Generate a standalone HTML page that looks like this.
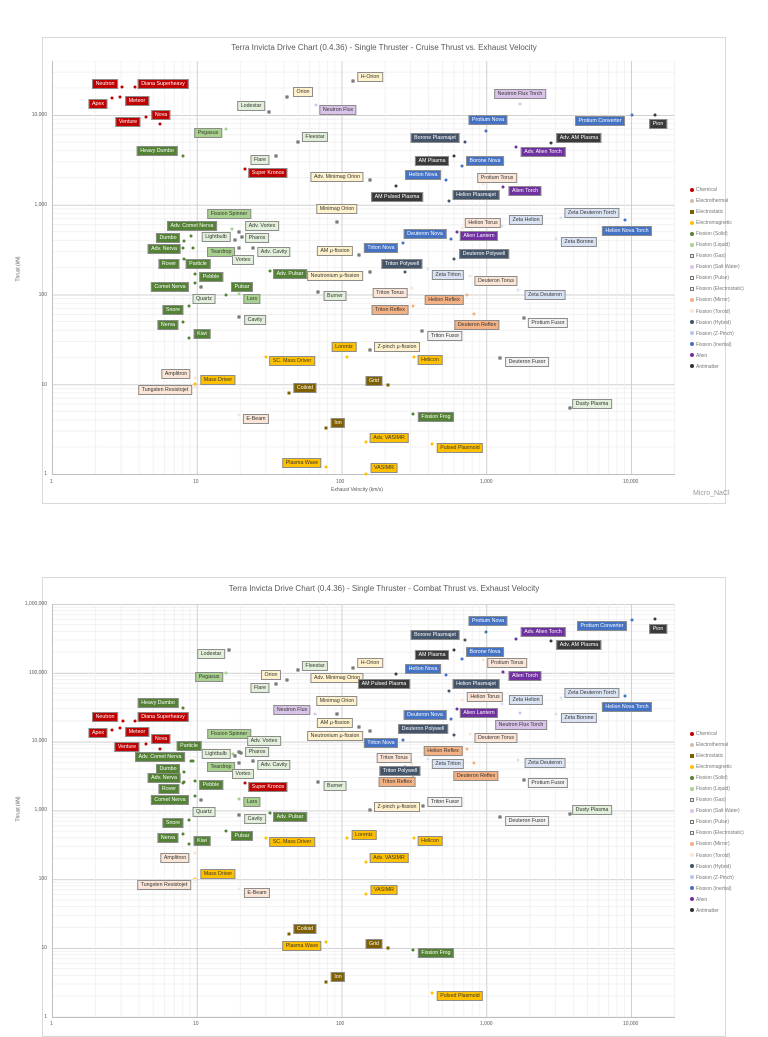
<!DOCTYPE html>
<html><head><meta charset="utf-8">
<style>
*{margin:0;padding:0;box-sizing:border-box}
body{width:768px;height:1024px;background:#fff;position:relative;overflow:hidden;font-family:"Liberation Sans",sans-serif}
.frame{position:absolute;border:1px solid #d9d9d9;background:#fff}
.t{position:absolute;white-space:nowrap;color:#595959}
.l{position:absolute;transform:translate(-50%,-50%);white-space:nowrap;font-size:5.3px;line-height:6px;padding:1px 2.5px;border:1px solid #8c8c8c;color:#333}
.p{position:absolute;width:3px;height:3px;border-radius:50%;transform:translate(-50%,-50%)}
.r{background:#c00000;color:#fff}.dg{background:#548235;color:#fff}.lg{background:#a9d18e}.vg{background:#e2efda}
.cr{background:#fff2cc}.lv{background:#d9c3e9}.bl{background:#4472c4;color:#fff}.sl{background:#44546a;color:#fff}
.bk{background:#3a3a3a;color:#fff}.pu{background:#7030a0;color:#fff}.pe{background:#fbe5d6}.or{background:#f4b183}
.pb{background:#dae3f3}.go{background:#ffc000}.br{background:#7f6000;color:#fff}.gr{background:#f2f2f2}
.lgd{position:absolute;font-size:5px;color:#777;line-height:11.05px}
.lgd span{display:inline-block;width:4px;height:4px;border-radius:50%;margin-right:2px;vertical-align:middle}
</style></head><body>
<div class="frame" style="left:42px;top:37px;width:684px;height:467px"></div>
<div class="frame" style="left:42px;top:577px;width:684px;height:460px"></div>
<svg width="768" height="1024" style="position:absolute;left:0;top:0">
<defs>
<pattern id="px" patternUnits="userSpaceOnUse" x="52" y="0" width="144.75" height="10">
<g stroke="#ececec" stroke-width="0.7"><line x1="43.6" y1="0" x2="43.6" y2="10"/><line x1="69.1" y1="0" x2="69.1" y2="10"/><line x1="87.1" y1="0" x2="87.1" y2="10"/><line x1="101.2" y1="0" x2="101.2" y2="10"/><line x1="112.6" y1="0" x2="112.6" y2="10"/><line x1="122.3" y1="0" x2="122.3" y2="10"/><line x1="130.7" y1="0" x2="130.7" y2="10"/><line x1="138.1" y1="0" x2="138.1" y2="10"/></g>
<line x1="0.5" y1="0" x2="0.5" y2="10" stroke="#d0d0d0" stroke-width="1"/>
</pattern>
<pattern id="py1" patternUnits="userSpaceOnUse" x="0" y="115" width="10" height="89.75">
<g stroke="#ececec" stroke-width="0.7"><line y1="62.7" x1="0" y2="62.7" x2="10"/><line y1="46.9" x1="0" y2="46.9" x2="10"/><line y1="35.7" x1="0" y2="35.7" x2="10"/><line y1="27" x1="0" y2="27" x2="10"/><line y1="19.9" x1="0" y2="19.9" x2="10"/><line y1="13.9" x1="0" y2="13.9" x2="10"/><line y1="8.7" x1="0" y2="8.7" x2="10"/><line y1="4.1" x1="0" y2="4.1" x2="10"/></g>
<line y1="0.5" x1="0" y2="0.5" x2="10" stroke="#d0d0d0" stroke-width="1"/>
</pattern>
<pattern id="py2" patternUnits="userSpaceOnUse" x="0" y="604" width="10" height="68.8">
<g stroke="#ececec" stroke-width="0.7"><line y1="48.1" x1="0" y2="48.1" x2="10"/><line y1="36" x1="0" y2="36" x2="10"/><line y1="27.4" x1="0" y2="27.4" x2="10"/><line y1="20.7" x1="0" y2="20.7" x2="10"/><line y1="15.3" x1="0" y2="15.3" x2="10"/><line y1="10.7" x1="0" y2="10.7" x2="10"/><line y1="6.7" x1="0" y2="6.7" x2="10"/><line y1="3.2" x1="0" y2="3.2" x2="10"/></g>
<line y1="0.5" x1="0" y2="0.5" x2="10" stroke="#d0d0d0" stroke-width="1"/>
</pattern>
</defs>
<rect x="52" y="61" width="623" height="413" fill="url(#py1)"/>
<rect x="52" y="61" width="623" height="413" fill="url(#px)"/>
<rect x="52" y="604" width="623" height="413" fill="url(#py2)"/>
<rect x="52" y="604" width="623" height="413" fill="url(#px)"/>
<g stroke="#bfbfbf" stroke-width="1"><line x1="52" y1="474.5" x2="675" y2="474.5"/><line x1="52" y1="1017.5" x2="675" y2="1017.5"/><line x1="52.5" y1="61" x2="52.5" y2="474"/><line x1="52.5" y1="604" x2="52.5" y2="1017"/></g>
</svg>

<div class="t" style="left:0;width:768px;top:43px;text-align:center;font-size:8px">Terra Invicta Drive Chart (0.4.36) - Single Thruster - Cruise Thrust vs. Exhaust Velocity</div>
<div class="t" style="left:0;width:768px;top:584px;text-align:center;font-size:8px">Terra Invicta Drive Chart (0.4.36) - Single Thruster - Combat Thrust vs. Exhaust Velocity</div>
<div class="t" style="left:693px;top:490px;font-size:7px;color:#999">Micro_NaCl</div>
<div class="t" style="left:0;width:714px;top:487px;text-align:center;font-size:5px">Exhaust Velocity (km/s)</div>
<div class="t" style="left:6px;top:266px;font-size:5px;transform:rotate(-90deg)">Thrust (kN)</div>
<div class="t" style="left:6px;top:806px;font-size:5px;transform:rotate(-90deg)">Thrust (kN)</div>

<div class="t" style="font-size:5px;right:721px;top:112px">10,000</div>
<div class="t" style="font-size:5px;right:721px;top:202px">1,000</div>
<div class="t" style="font-size:5px;right:721px;top:292px">100</div>
<div class="t" style="font-size:5px;right:721px;top:382px">10</div>
<div class="t" style="font-size:5px;right:721px;top:471px">1</div>
<div class="t" style="font-size:5px;left:50px;top:479px">1</div>
<div class="t" style="font-size:5px;left:193px;top:479px">10</div>
<div class="t" style="font-size:5px;left:336px;top:479px">100</div>
<div class="t" style="font-size:5px;left:480px;top:479px">1,000</div>
<div class="t" style="font-size:5px;left:623px;top:479px">10,000</div>

<div class="t" style="font-size:5px;right:721px;top:601px">1,000,000</div>
<div class="t" style="font-size:5px;right:721px;top:670px">100,000</div>
<div class="t" style="font-size:5px;right:721px;top:738px">10,000</div>
<div class="t" style="font-size:5px;right:721px;top:807px">1,000</div>
<div class="t" style="font-size:5px;right:721px;top:876px">100</div>
<div class="t" style="font-size:5px;right:721px;top:945px">10</div>
<div class="t" style="font-size:5px;right:721px;top:1014px">1</div>
<div class="t" style="font-size:5px;left:50px;top:1021px">1</div>
<div class="t" style="font-size:5px;left:193px;top:1021px">10</div>
<div class="t" style="font-size:5px;left:336px;top:1021px">100</div>
<div class="t" style="font-size:5px;left:480px;top:1021px">1,000</div>
<div class="t" style="font-size:5px;left:623px;top:1021px">10,000</div>

<div class="lgd" style="left:690px;top:185px"><span style="background:#c00000"></span>Chemical<br><span style="background:#d9b9a9"></span>Electrothermal<br><span style="background:#7f6000;border-radius:0"></span>Electrostatic<br><span style="background:#ffc000"></span>Electromagnetic<br><span style="background:#548235"></span>Fission (Solid)<br><span style="background:#a9d18e"></span>Fission (Liquid)<br><span style="background:#e2efda;border:1px solid #777;border-radius:0"></span>Fission (Gas)<br><span style="background:#d9c3e9"></span>Fission (Salt Water)<br><span style="background:#fff2cc;border:1px solid #777;border-radius:0"></span>Fission (Pulse)<br><span style="background:#f2f2f2;border:1px solid #777;border-radius:0"></span>Fission (Electrostatic)<br><span style="background:#f4b183"></span>Fission (Mirror)<br><span style="background:#fbe5d6"></span>Fission (Toroid)<br><span style="background:#44546a"></span>Fission (Hybrid)<br><span style="background:#b4c7e7"></span>Fission (Z-Pinch)<br><span style="background:#4472c4"></span>Fission (Inertial)<br><span style="background:#7030a0"></span>Alien<br><span style="background:#333"></span>Antimatter</div>
<div class="lgd" style="left:690px;top:729px"><span style="background:#c00000"></span>Chemical<br><span style="background:#d9b9a9"></span>Electrothermal<br><span style="background:#7f6000;border-radius:0"></span>Electrostatic<br><span style="background:#ffc000"></span>Electromagnetic<br><span style="background:#548235"></span>Fission (Solid)<br><span style="background:#a9d18e"></span>Fission (Liquid)<br><span style="background:#e2efda;border:1px solid #777;border-radius:0"></span>Fission (Gas)<br><span style="background:#d9c3e9"></span>Fission (Salt Water)<br><span style="background:#fff2cc;border:1px solid #777;border-radius:0"></span>Fission (Pulse)<br><span style="background:#f2f2f2;border:1px solid #777;border-radius:0"></span>Fission (Electrostatic)<br><span style="background:#f4b183"></span>Fission (Mirror)<br><span style="background:#fbe5d6"></span>Fission (Toroid)<br><span style="background:#44546a"></span>Fission (Hybrid)<br><span style="background:#b4c7e7"></span>Fission (Z-Pinch)<br><span style="background:#4472c4"></span>Fission (Inertial)<br><span style="background:#7030a0"></span>Alien<br><span style="background:#333"></span>Antimatter</div>

<!-- Chart 1 points -->
<div class="p r" style="left:122px;top:87px"></div><div class="p r" style="left:135px;top:87px"></div><div class="p r" style="left:112px;top:98px"></div><div class="p r" style="left:120px;top:97px"></div><div class="p r" style="left:146px;top:117px"></div><div class="p r" style="left:160px;top:124px"></div><div class="p r" style="left:245px;top:169px"></div>
<div class="p lg" style="left:226px;top:129px"></div><div class="p dg" style="left:183px;top:156px"></div><div class="p vg" style="left:269px;top:112px;border:1px solid #555;border-radius:0"></div><div class="p cr" style="left:287px;top:97px;border:1px solid #555;border-radius:0"></div><div class="p cr" style="left:353px;top:81px;border:1px solid #555;border-radius:0"></div><div class="p lv" style="left:316px;top:105px"></div><div class="p vg" style="left:298px;top:142px;border:1px solid #555;border-radius:0"></div><div class="p vg" style="left:276px;top:156px;border:1px solid #555;border-radius:0"></div><div class="p cr" style="left:370px;top:180px;border:1px solid #555;border-radius:0"></div><div class="p bk" style="left:396px;top:186px"></div><div class="p cr" style="left:337px;top:222px;border:1px solid #555;border-radius:0"></div>
<div class="p bl" style="left:486px;top:131px"></div><div class="p sl" style="left:465px;top:142px"></div><div class="p bk" style="left:551px;top:143px"></div><div class="p pu" style="left:516px;top:147px"></div><div class="p bk" style="left:454px;top:156px"></div><div class="p bl" style="left:462px;top:166px"></div><div class="p bl" style="left:446px;top:180px"></div><div class="p pe" style="left:483px;top:184px"></div><div class="p pu" style="left:503px;top:187px"></div><div class="p sl" style="left:449px;top:201px"></div><div class="p lv" style="left:520px;top:104px"></div><div class="p bl" style="left:632px;top:115px"></div><div class="p bk" style="left:655px;top:115px"></div>
<div class="p bl" style="left:625px;top:220px"></div><div class="p pb" style="left:561px;top:218px"></div><div class="p pb" style="left:556px;top:239px"></div><div class="p pb" style="left:502px;top:226px"></div><div class="p pe" style="left:462px;top:228px"></div><div class="p pu" style="left:457px;top:232px"></div><div class="p bl" style="left:451px;top:239px"></div><div class="p sl" style="left:454px;top:259px"></div><div class="p bl" style="left:403px;top:243px"></div><div class="p sl" style="left:405px;top:272px"></div><div class="p pb" style="left:428px;top:269px"></div><div class="p pe" style="left:470px;top:276px"></div>
<div class="p pe" style="left:412px;top:288px"></div><div class="p or" style="left:467px;top:295px"></div><div class="p pb" style="left:518px;top:290px"></div><div class="p or" style="left:413px;top:306px"></div><div class="p or" style="left:474px;top:314px"></div><div class="p gr" style="left:524px;top:318px;border:1px solid #555;border-radius:0"></div><div class="p gr" style="left:422px;top:331px;border:1px solid #555;border-radius:0"></div><div class="p gr" style="left:500px;top:358px;border:1px solid #555;border-radius:0"></div><div class="p go" style="left:414px;top:357px"></div><div class="p vg" style="left:570px;top:408px;border:1px solid #555;border-radius:0"></div><div class="p dg" style="left:413px;top:414px"></div><div class="p go" style="left:432px;top:444px"></div>
<div class="p lg" style="left:232px;top:229px"></div><div class="p vg" style="left:239px;top:232px;border:1px solid #555;border-radius:0"></div><div class="p dg" style="left:191px;top:236px"></div><div class="p dg" style="left:184px;top:241px"></div><div class="p vg" style="left:235px;top:240px;border:1px solid #555;border-radius:0"></div><div class="p vg" style="left:242px;top:237px;border:1px solid #555;border-radius:0"></div><div class="p dg" style="left:183px;top:248px"></div><div class="p vg" style="left:239px;top:248px;border:1px solid #555;border-radius:0"></div><div class="p vg" style="left:253px;top:248px;border:1px solid #555;border-radius:0"></div><div class="p dg" style="left:184px;top:259px"></div><div class="p dg" style="left:193px;top:248px"></div><div class="p cr" style="left:359px;top:255px;border:1px solid #555;border-radius:0"></div>
<div class="p dg" style="left:195px;top:274px"></div><div class="p dg" style="left:270px;top:271px"></div><div class="p cr" style="left:370px;top:272px;border:1px solid #555;border-radius:0"></div><div class="p dg" style="left:195px;top:283px"></div><div class="p dg" style="left:226px;top:295px"></div><div class="p vg" style="left:201px;top:287px;border:1px solid #555;border-radius:0"></div><div class="p lg" style="left:239px;top:294px"></div><div class="p vg" style="left:318px;top:292px;border:1px solid #555;border-radius:0"></div><div class="p dg" style="left:189px;top:306px"></div><div class="p vg" style="left:239px;top:317px;border:1px solid #555;border-radius:0"></div><div class="p dg" style="left:183px;top:322px"></div><div class="p dg" style="left:189px;top:338px"></div>
<div class="p go" style="left:347px;top:357px"></div><div class="p cr" style="left:370px;top:350px;border:1px solid #555;border-radius:0"></div><div class="p go" style="left:266px;top:357px"></div><div class="p pe" style="left:195px;top:378px"></div><div class="p go" style="left:195px;top:384px"></div><div class="p pe" style="left:195px;top:387px"></div><div class="p br" style="left:289px;top:393px;border-radius:0"></div><div class="p br" style="left:388px;top:385px;border-radius:0"></div><div class="p pe" style="left:239px;top:415px"></div><div class="p br" style="left:326px;top:428px;border-radius:0"></div><div class="p go" style="left:366px;top:442px"></div><div class="p go" style="left:326px;top:467px"></div><div class="p go" style="left:366px;top:474px"></div>

<!-- Chart 1 labels -->
<div class="l r" style="left:105px;top:84px">Neutron</div>
<div class="l r" style="left:163px;top:84px">Diana Superheavy</div>
<div class="l r" style="left:98px;top:104px">Apex</div>
<div class="l r" style="left:137px;top:101px">Meteor</div>
<div class="l r" style="left:128px;top:122px">Venture</div>
<div class="l r" style="left:161px;top:115px">Nova</div>
<div class="l lg" style="left:208px;top:133px">Pegasus</div>
<div class="l dg" style="left:157px;top:151px">Heavy Dumbo</div>
<div class="l vg" style="left:251px;top:106px">Lodestar</div>
<div class="l cr" style="left:303px;top:92px">Orion</div>
<div class="l cr" style="left:370px;top:77px">H-Orion</div>
<div class="l lv" style="left:338px;top:110px">Neutron Flux</div>
<div class="l vg" style="left:315px;top:137px">Fleestar</div>
<div class="l vg" style="left:260px;top:160px">Flare</div>
<div class="l r" style="left:268px;top:173px">Super Kronos</div>
<div class="l cr" style="left:337px;top:177px">Adv. Minimag Orion</div>
<div class="l bk" style="left:397px;top:197px">AM Pulsed Plasma</div>
<div class="l cr" style="left:337px;top:209px">Minimag Orion</div>
<div class="l bl" style="left:488px;top:120px">Protium Nova</div>
<div class="l sl" style="left:435px;top:138px">Borone Plasmajet</div>
<div class="l bk" style="left:579px;top:138px">Adv. AM Plasma</div>
<div class="l pu" style="left:543px;top:152px">Adv. Alien Torch</div>
<div class="l bk" style="left:432px;top:161px">AM Plasma</div>
<div class="l bl" style="left:485px;top:161px">Borone Nova</div>
<div class="l bl" style="left:423px;top:175px">Helion Nova</div>
<div class="l pe" style="left:497px;top:178px">Protium Torus</div>
<div class="l pu" style="left:525px;top:191px">Alien Torch</div>
<div class="l sl" style="left:476px;top:195px">Helion Plasmajet</div>
<div class="l lv" style="left:520px;top:94px">Neutron Flux Torch</div>
<div class="l bl" style="left:600px;top:121px">Protium Converter</div>
<div class="l bk" style="left:658px;top:124px">Pion</div>
<div class="l lg" style="left:229px;top:214px">Fission Spinner</div>
<div class="l vg" style="left:262px;top:226px">Adv. Vortex</div>
<div class="l dg" style="left:192px;top:226px">Adv. Comet Nerva</div>
<div class="l dg" style="left:168px;top:238px">Dumbo</div>
<div class="l vg" style="left:216px;top:237px">Lightbulb</div>
<div class="l vg" style="left:257px;top:238px">Pharos</div>
<div class="l dg" style="left:164px;top:249px">Adv. Nerva</div>
<div class="l lg" style="left:221px;top:252px">Teardrop</div>
<div class="l vg" style="left:274px;top:252px">Adv. Cavity</div>
<div class="l vg" style="left:243px;top:260px">Vortex</div>
<div class="l dg" style="left:169px;top:264px">Rover</div>
<div class="l dg" style="left:198px;top:264px">Particle</div>
<div class="l cr" style="left:335px;top:251px">AM μ-fission</div>
<div class="l bl" style="left:381px;top:248px">Triton Nova</div>
<div class="l sl" style="left:402px;top:264px">Triton Polywell</div>
<div class="l pb" style="left:448px;top:275px">Zeta Triton</div>
<div class="l pe" style="left:496px;top:281px">Deuteron Torus</div>
<div class="l pe" style="left:483px;top:223px">Helion Torus</div>
<div class="l pb" style="left:526px;top:220px">Zeta Helion</div>
<div class="l pb" style="left:592px;top:213px">Zeta Deuteron Torch</div>
<div class="l bl" style="left:627px;top:231px">Helion Nova Torch</div>
<div class="l pb" style="left:579px;top:242px">Zeta Borone</div>
<div class="l bl" style="left:425px;top:234px">Deuteron Nova</div>
<div class="l pu" style="left:479px;top:236px">Alien Lantern</div>
<div class="l sl" style="left:484px;top:254px">Deuteron Polywell</div>
<div class="l dg" style="left:211px;top:277px">Pebble</div>
<div class="l dg" style="left:290px;top:274px">Adv. Pulsar</div>
<div class="l cr" style="left:335px;top:276px">Neutronium μ-fission</div>
<div class="l dg" style="left:170px;top:287px">Comet Nerva</div>
<div class="l dg" style="left:242px;top:287px">Pulsar</div>
<div class="l vg" style="left:204px;top:299px">Quartz</div>
<div class="l lg" style="left:252px;top:299px">Lars</div>
<div class="l vg" style="left:335px;top:296px">Burner</div>
<div class="l pe" style="left:390px;top:293px">Triton Torus</div>
<div class="l or" style="left:444px;top:300px">Helion Reflex</div>
<div class="l pb" style="left:545px;top:295px">Zeta Deuteron</div>
<div class="l dg" style="left:173px;top:310px">Snore</div>
<div class="l or" style="left:390px;top:310px">Triton Reflex</div>
<div class="l vg" style="left:255px;top:320px">Cavity</div>
<div class="l dg" style="left:168px;top:325px">Nerva</div>
<div class="l or" style="left:477px;top:325px">Deuteron Reflex</div>
<div class="l gr" style="left:548px;top:323px">Protium Fusor</div>
<div class="l dg" style="left:202px;top:334px">Kiwi</div>
<div class="l gr" style="left:445px;top:336px">Triton Fusor</div>
<div class="l go" style="left:344px;top:347px">Lorentz</div>
<div class="l cr" style="left:397px;top:347px">Z-pinch μ-fission</div>
<div class="l go" style="left:292px;top:361px">SC. Mass Driver</div>
<div class="l go" style="left:430px;top:360px">Helicon</div>
<div class="l gr" style="left:527px;top:362px">Deuteron Fusor</div>
<div class="l pe" style="left:176px;top:374px">Amplitron</div>
<div class="l go" style="left:218px;top:380px">Mass Driver</div>
<div class="l pe" style="left:165px;top:390px">Tungsten Resistojet</div>
<div class="l br" style="left:305px;top:388px">Coiloid</div>
<div class="l br" style="left:374px;top:381px">Grid</div>
<div class="l vg" style="left:592px;top:404px">Dusty Plasma</div>
<div class="l pe" style="left:256px;top:419px">E-Beam</div>
<div class="l dg" style="left:436px;top:417px">Fission Frog</div>
<div class="l br" style="left:338px;top:423px">Ion</div>
<div class="l go" style="left:389px;top:438px">Adv. VASIMR</div>
<div class="l go" style="left:460px;top:448px">Pulsed Plasmoid</div>
<div class="l go" style="left:302px;top:463px">Plasma Wave</div>
<div class="l go" style="left:384px;top:468px">VASIMR</div>

<!-- Chart 2 points -->
<div class="p vg" style="left:229px;top:650px;border:1px solid #555;border-radius:0"></div><div class="p lg" style="left:226px;top:673px"></div><div class="p vg" style="left:298px;top:670px;border:1px solid #555;border-radius:0"></div><div class="p cr" style="left:353px;top:668px;border:1px solid #555;border-radius:0"></div><div class="p cr" style="left:287px;top:680px;border:1px solid #555;border-radius:0"></div><div class="p cr" style="left:370px;top:682px;border:1px solid #555;border-radius:0"></div><div class="p bk" style="left:396px;top:674px"></div><div class="p vg" style="left:276px;top:684px;border:1px solid #555;border-radius:0"></div><div class="p dg" style="left:183px;top:708px"></div><div class="p cr" style="left:337px;top:714px;border:1px solid #555;border-radius:0"></div><div class="p lv" style="left:315px;top:714px"></div>
<div class="p r" style="left:123px;top:721px"></div><div class="p r" style="left:135px;top:721px"></div><div class="p cr" style="left:359px;top:727px;border:1px solid #555;border-radius:0"></div><div class="p r" style="left:112px;top:730px"></div><div class="p r" style="left:120px;top:728px"></div><div class="p cr" style="left:370px;top:731px;border:1px solid #555;border-radius:0"></div><div class="p r" style="left:160px;top:749px"></div><div class="p r" style="left:146px;top:744px"></div><div class="p dg" style="left:193px;top:761px"></div><div class="p lg" style="left:233px;top:754px"></div><div class="p vg" style="left:239px;top:752px;border:1px solid #555;border-radius:0"></div><div class="p vg" style="left:235px;top:756px;border:1px solid #555;border-radius:0"></div><div class="p vg" style="left:241px;top:753px;border:1px solid #555;border-radius:0"></div><div class="p dg" style="left:191px;top:761px"></div>
<div class="p vg" style="left:239px;top:763px;border:1px solid #555;border-radius:0"></div><div class="p vg" style="left:253px;top:761px;border:1px solid #555;border-radius:0"></div><div class="p dg" style="left:184px;top:772px"></div><div class="p dg" style="left:183px;top:783px"></div><div class="p r" style="left:245px;top:783px"></div><div class="p vg" style="left:318px;top:782px;border:1px solid #555;border-radius:0"></div><div class="p dg" style="left:184px;top:782px"></div><div class="p dg" style="left:195px;top:781px"></div><div class="p dg" style="left:195px;top:796px"></div><div class="p lg" style="left:239px;top:799px"></div><div class="p vg" style="left:201px;top:800px;border:1px solid #555;border-radius:0"></div><div class="p vg" style="left:239px;top:815px;border:1px solid #555;border-radius:0"></div><div class="p dg" style="left:270px;top:813px"></div><div class="p dg" style="left:189px;top:820px"></div><div class="p dg" style="left:183px;top:834px"></div><div class="p dg" style="left:189px;top:844px"></div><div class="p dg" style="left:226px;top:831px"></div>
<div class="p go" style="left:266px;top:838px"></div><div class="p go" style="left:347px;top:838px"></div><div class="p pe" style="left:195px;top:853px"></div><div class="p go" style="left:366px;top:862px"></div><div class="p go" style="left:195px;top:879px"></div><div class="p pe" style="left:195px;top:880px"></div><div class="p pe" style="left:239px;top:889px"></div><div class="p go" style="left:366px;top:894px"></div><div class="p br" style="left:289px;top:934px;border-radius:0"></div><div class="p go" style="left:326px;top:942px"></div><div class="p br" style="left:388px;top:948px;border-radius:0"></div><div class="p dg" style="left:413px;top:950px"></div><div class="p br" style="left:326px;top:982px;border-radius:0"></div><div class="p go" style="left:432px;top:993px"></div>
<div class="p cr" style="left:370px;top:810px;border:1px solid #555;border-radius:0"></div><div class="p gr" style="left:423px;top:806px;border:1px solid #555;border-radius:0"></div><div class="p vg" style="left:570px;top:814px;border:1px solid #555;border-radius:0"></div><div class="p gr" style="left:500px;top:817px;border:1px solid #555;border-radius:0"></div><div class="p go" style="left:414px;top:838px"></div>
<div class="p bl" style="left:486px;top:632px"></div><div class="p sl" style="left:465px;top:640px"></div><div class="p pu" style="left:516px;top:639px"></div><div class="p bl" style="left:632px;top:620px"></div><div class="p bk" style="left:655px;top:619px"></div><div class="p bk" style="left:551px;top:641px"></div><div class="p bk" style="left:454px;top:650px"></div><div class="p bl" style="left:462px;top:659px"></div><div class="p pe" style="left:483px;top:660px"></div><div class="p bl" style="left:446px;top:675px"></div><div class="p pu" style="left:503px;top:672px"></div><div class="p sl" style="left:449px;top:691px"></div><div class="p pe" style="left:462px;top:700px"></div><div class="p pb" style="left:502px;top:704px"></div><div class="p pb" style="left:561px;top:698px"></div><div class="p bl" style="left:625px;top:696px"></div>
<div class="p bl" style="left:451px;top:719px"></div><div class="p pu" style="left:457px;top:709px"></div><div class="p pb" style="left:556px;top:714px"></div><div class="p lv" style="left:520px;top:713px"></div><div class="p sl" style="left:454px;top:735px"></div><div class="p pe" style="left:470px;top:734px"></div><div class="p bl" style="left:403px;top:740px"></div><div class="p or" style="left:467px;top:749px"></div><div class="p pe" style="left:412px;top:764px"></div><div class="p pb" style="left:428px;top:759px"></div><div class="p pb" style="left:518px;top:760px"></div><div class="p sl" style="left:405px;top:767px"></div><div class="p or" style="left:474px;top:763px"></div><div class="p or" style="left:413px;top:777px"></div><div class="p gr" style="left:524px;top:780px;border:1px solid #555;border-radius:0"></div>

<!-- Chart 2 labels -->
<div class="l vg" style="left:211px;top:654px">Lodestar</div>
<div class="l lg" style="left:209px;top:677px">Pegasus</div>
<div class="l vg" style="left:315px;top:666px">Fleestar</div>
<div class="l cr" style="left:370px;top:663px">H-Orion</div>
<div class="l cr" style="left:271px;top:675px">Orion</div>
<div class="l cr" style="left:337px;top:678px">Adv. Minimag Orion</div>
<div class="l bk" style="left:384px;top:684px">AM Pulsed Plasma</div>
<div class="l vg" style="left:260px;top:688px">Flare</div>
<div class="l dg" style="left:158px;top:703px">Heavy Dumbo</div>
<div class="l cr" style="left:337px;top:701px">Minimag Orion</div>
<div class="l lv" style="left:292px;top:710px">Neutron Flux</div>
<div class="l r" style="left:105px;top:717px">Neutron</div>
<div class="l r" style="left:163px;top:717px">Diana Superheavy</div>
<div class="l cr" style="left:335px;top:723px">AM μ-fission</div>
<div class="l r" style="left:98px;top:733px">Apex</div>
<div class="l r" style="left:137px;top:732px">Meteor</div>
<div class="l cr" style="left:335px;top:736px">Neutronium μ-fission</div>
<div class="l r" style="left:161px;top:739px">Nova</div>
<div class="l r" style="left:127px;top:747px">Venture</div>
<div class="l dg" style="left:189px;top:746px">Particle</div>
<div class="l lg" style="left:229px;top:734px">Fission Spinner</div>
<div class="l vg" style="left:264px;top:741px">Adv. Vortex</div>
<div class="l vg" style="left:216px;top:754px">Lightbulb</div>
<div class="l vg" style="left:257px;top:752px">Pharos</div>
<div class="l dg" style="left:160px;top:757px">Adv. Comet Nerva</div>
<div class="l lg" style="left:221px;top:767px">Teardrop</div>
<div class="l vg" style="left:274px;top:765px">Adv. Cavity</div>
<div class="l vg" style="left:243px;top:774px">Vortex</div>
<div class="l dg" style="left:168px;top:769px">Dumbo</div>
<div class="l dg" style="left:164px;top:778px">Adv. Nerva</div>
<div class="l r" style="left:268px;top:787px">Super Kronos</div>
<div class="l vg" style="left:335px;top:786px">Burner</div>
<div class="l dg" style="left:169px;top:789px">Rover</div>
<div class="l dg" style="left:211px;top:785px">Pebble</div>
<div class="l dg" style="left:170px;top:800px">Comet Nerva</div>
<div class="l lg" style="left:252px;top:802px">Lars</div>
<div class="l vg" style="left:204px;top:812px">Quartz</div>
<div class="l vg" style="left:255px;top:819px">Cavity</div>
<div class="l dg" style="left:290px;top:817px">Adv. Pulsar</div>
<div class="l dg" style="left:173px;top:823px">Snore</div>
<div class="l dg" style="left:168px;top:838px">Nerva</div>
<div class="l dg" style="left:202px;top:841px">Kiwi</div>
<div class="l dg" style="left:242px;top:836px">Pulsar</div>
<div class="l go" style="left:292px;top:842px">SC. Mass Driver</div>
<div class="l go" style="left:364px;top:835px">Lorentz</div>
<div class="l pe" style="left:175px;top:858px">Amplitron</div>
<div class="l go" style="left:389px;top:858px">Adv. VASIMR</div>
<div class="l go" style="left:218px;top:874px">Mass Driver</div>
<div class="l pe" style="left:164px;top:885px">Tungsten Resistojet</div>
<div class="l pe" style="left:257px;top:893px">E-Beam</div>
<div class="l go" style="left:384px;top:890px">VASIMR</div>
<div class="l br" style="left:305px;top:929px">Coiloid</div>
<div class="l go" style="left:302px;top:946px">Plasma Wave</div>
<div class="l br" style="left:374px;top:944px">Grid</div>
<div class="l dg" style="left:436px;top:953px">Fission Frog</div>
<div class="l br" style="left:338px;top:977px">Ion</div>
<div class="l go" style="left:460px;top:996px">Pulsed Plasmoid</div>
<div class="l cr" style="left:397px;top:807px">Z-pinch μ-fission</div>
<div class="l gr" style="left:445px;top:802px">Triton Fusor</div>
<div class="l vg" style="left:592px;top:810px">Dusty Plasma</div>
<div class="l gr" style="left:527px;top:821px">Deuteron Fusor</div>
<div class="l go" style="left:430px;top:841px">Helicon</div>
<div class="l bl" style="left:488px;top:621px">Protium Nova</div>
<div class="l sl" style="left:435px;top:635px">Borone Plasmajet</div>
<div class="l pu" style="left:543px;top:632px">Adv. Alien Torch</div>
<div class="l bl" style="left:602px;top:626px">Protium Converter</div>
<div class="l bk" style="left:658px;top:629px">Pion</div>
<div class="l bk" style="left:579px;top:645px">Adv. AM Plasma</div>
<div class="l bk" style="left:432px;top:655px">AM Plasma</div>
<div class="l bl" style="left:485px;top:652px">Borone Nova</div>
<div class="l pe" style="left:507px;top:663px">Protium Torus</div>
<div class="l bl" style="left:423px;top:669px">Helion Nova</div>
<div class="l pu" style="left:525px;top:676px">Alien Torch</div>
<div class="l sl" style="left:476px;top:684px">Helion Plasmajet</div>
<div class="l pe" style="left:485px;top:697px">Helion Torus</div>
<div class="l pb" style="left:526px;top:700px">Zeta Helion</div>
<div class="l pb" style="left:592px;top:693px">Zeta Deuteron Torch</div>
<div class="l bl" style="left:627px;top:707px">Helion Nova Torch</div>
<div class="l bl" style="left:425px;top:715px">Deuteron Nova</div>
<div class="l pu" style="left:479px;top:713px">Alien Lantern</div>
<div class="l pb" style="left:579px;top:718px">Zeta Borone</div>
<div class="l lv" style="left:521px;top:725px">Neutron Flux Torch</div>
<div class="l sl" style="left:423px;top:729px">Deuteron Polywell</div>
<div class="l pe" style="left:496px;top:738px">Deuteron Torus</div>
<div class="l bl" style="left:381px;top:743px">Triton Nova</div>
<div class="l or" style="left:443px;top:751px">Helion Reflex</div>
<div class="l pe" style="left:394px;top:758px">Triton Torus</div>
<div class="l pb" style="left:448px;top:764px">Zeta Triton</div>
<div class="l pb" style="left:545px;top:763px">Zeta Deuteron</div>
<div class="l sl" style="left:400px;top:771px">Triton Polywell</div>
<div class="l or" style="left:476px;top:776px">Deuteron Reflex</div>
<div class="l or" style="left:397px;top:782px">Triton Reflex</div>
<div class="l gr" style="left:548px;top:783px">Protium Fusor</div>
</body></html>
